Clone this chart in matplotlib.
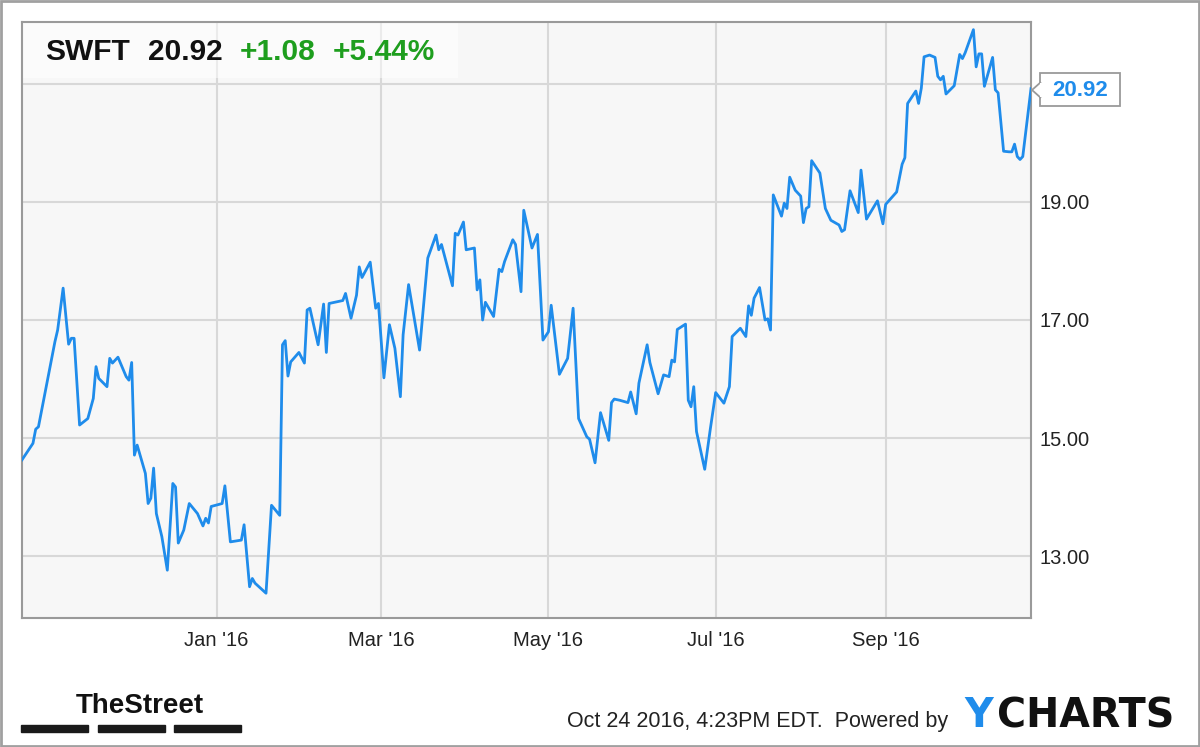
import numpy as np
import pandas as pd
import matplotlib
matplotlib.use("Agg")
import matplotlib.pyplot as plt
from matplotlib.patches import Rectangle, Polygon

# SWFT closing prices (vertices of the line)
dates = [
    "2015-10-22", "2015-10-26", "2015-10-27", "2015-10-28", "2015-11-01", "2015-11-03",
    "2015-11-04", "2015-11-06", "2015-11-08", "2015-11-09", "2015-11-10", "2015-11-12",
    "2015-11-15", "2015-11-17", "2015-11-18", "2015-11-19", "2015-11-22", "2015-11-23",
    "2015-11-24", "2015-11-26", "2015-11-29", "2015-11-30", "2015-12-01", "2015-12-02",
    "2015-12-03", "2015-12-06", "2015-12-07", "2015-12-08", "2015-12-09", "2015-12-10",
    "2015-12-12", "2015-12-14", "2015-12-16", "2015-12-17", "2015-12-18", "2015-12-20",
    "2015-12-22", "2015-12-25", "2015-12-27", "2015-12-28", "2015-12-29", "2015-12-30",
    "2016-01-03", "2016-01-04", "2016-01-06", "2016-01-10", "2016-01-11", "2016-01-13",
    "2016-01-14", "2016-01-15", "2016-01-19", "2016-01-21", "2016-01-24", "2016-01-25",
    "2016-01-26", "2016-01-27", "2016-01-28", "2016-01-31", "2016-02-02", "2016-02-03",
    "2016-02-04", "2016-02-07", "2016-02-09", "2016-02-10", "2016-02-11", "2016-02-16",
    "2016-02-17", "2016-02-19", "2016-02-21", "2016-02-22", "2016-02-23", "2016-02-26",
    "2016-02-28", "2016-02-29", "2016-03-02", "2016-03-04", "2016-03-06", "2016-03-08",
    "2016-03-09", "2016-03-11", "2016-03-15", "2016-03-18", "2016-03-21", "2016-03-22",
    "2016-03-23", "2016-03-27", "2016-03-28", "2016-03-29", "2016-03-31", "2016-04-01",
    "2016-04-04", "2016-04-05", "2016-04-06", "2016-04-07", "2016-04-08", "2016-04-11",
    "2016-04-13", "2016-04-14", "2016-04-15", "2016-04-18", "2016-04-19", "2016-04-21",
    "2016-04-22", "2016-04-25", "2016-04-27", "2016-04-29", "2016-05-01", "2016-05-02",
    "2016-05-05", "2016-05-08", "2016-05-10", "2016-05-12", "2016-05-15", "2016-05-16",
    "2016-05-18", "2016-05-20", "2016-05-23", "2016-05-24", "2016-05-25", "2016-05-27",
    "2016-05-30", "2016-05-31", "2016-06-02", "2016-06-03", "2016-06-06", "2016-06-07",
    "2016-06-10", "2016-06-12", "2016-06-14", "2016-06-15", "2016-06-16", "2016-06-17",
    "2016-06-20", "2016-06-21", "2016-06-22", "2016-06-23", "2016-06-24", "2016-06-27",
    "2016-06-29", "2016-07-01", "2016-07-04", "2016-07-06", "2016-07-07", "2016-07-10",
    "2016-07-12", "2016-07-13", "2016-07-14", "2016-07-15", "2016-07-17", "2016-07-19",
    "2016-07-20", "2016-07-21", "2016-07-22", "2016-07-25", "2016-07-26", "2016-07-27",
    "2016-07-28", "2016-07-30", "2016-08-01", "2016-08-02", "2016-08-03", "2016-08-04",
    "2016-08-05", "2016-08-08", "2016-08-10", "2016-08-12", "2016-08-15", "2016-08-16",
    "2016-08-17", "2016-08-19", "2016-08-22", "2016-08-23", "2016-08-25", "2016-08-29",
    "2016-08-31", "2016-09-01", "2016-09-05", "2016-09-07", "2016-09-08", "2016-09-09",
    "2016-09-12", "2016-09-13", "2016-09-14", "2016-09-15", "2016-09-17", "2016-09-19",
    "2016-09-20", "2016-09-21", "2016-09-22", "2016-09-23", "2016-09-26", "2016-09-28",
    "2016-09-29", "2016-09-30", "2016-10-03", "2016-10-04", "2016-10-05", "2016-10-06",
    "2016-10-07", "2016-10-10", "2016-10-11", "2016-10-12", "2016-10-14", "2016-10-16",
    "2016-10-17", "2016-10-18", "2016-10-19", "2016-10-20", "2016-10-21", "2016-10-24",
]
prices = [
    14.63, 14.91, 15.15, 15.19, 16.15, 16.63,
    16.83, 17.54, 16.59, 16.69, 16.69, 15.22,
    15.33, 15.67, 16.21, 16.01, 15.87, 16.35,
    16.27, 16.37, 16.04, 15.98, 16.28, 14.71,
    14.88, 14.40, 13.89, 13.98, 14.49, 13.72,
    13.33, 12.76, 14.23, 14.17, 13.22, 13.44,
    13.89, 13.72, 13.51, 13.64, 13.56, 13.84,
    13.89, 14.19, 13.24, 13.27, 13.53, 12.48,
    12.62, 12.54, 12.37, 13.86, 13.69, 16.58,
    16.65, 16.05, 16.29, 16.45, 16.27, 17.17,
    17.20, 16.58, 17.27, 16.45, 17.28, 17.33,
    17.45, 17.03, 17.42, 17.90, 17.72, 17.98,
    17.20, 17.28, 16.02, 16.92, 16.52, 15.70,
    16.75, 17.60, 16.49, 18.05, 18.44, 18.19,
    18.28, 17.58, 18.47, 18.44, 18.66, 18.19,
    18.22, 17.51, 17.68, 17.00, 17.30, 17.06,
    17.86, 17.82, 17.99, 18.36, 18.28, 17.48,
    18.86, 18.22, 18.45, 16.66, 16.80, 17.25,
    16.08, 16.35, 17.20, 15.33, 15.02, 14.98,
    14.58, 15.43, 14.96, 15.60, 15.66, 15.64,
    15.60, 15.78, 15.41, 15.93, 16.58, 16.28,
    15.75, 16.07, 16.04, 16.32, 16.29, 16.84,
    16.93, 15.64, 15.53, 15.87, 15.11, 14.47,
    15.14, 15.77, 15.59, 15.87, 16.72, 16.86,
    16.72, 17.24, 17.08, 17.37, 17.55, 17.00,
    17.02, 16.83, 19.12, 18.76, 18.98, 18.89,
    19.42, 19.20, 19.10, 18.65, 18.89, 18.92,
    19.70, 19.49, 18.89, 18.69, 18.61, 18.50,
    18.53, 19.19, 18.82, 19.54, 18.71, 19.02,
    18.63, 18.96, 19.17, 19.64, 19.75, 20.67,
    20.88, 20.67, 20.93, 21.46, 21.49, 21.45,
    21.13, 21.07, 21.13, 20.83, 20.97, 21.50,
    21.43, 21.53, 21.92, 21.29, 21.51, 21.51,
    20.96, 21.45, 20.90, 20.85, 19.86, 19.85,
    19.85, 19.98, 19.77, 19.72, 19.77, 20.92,
]

ticker = "SWFT"
last_price = "20.92"
change = "+1.08"
change_pct = "+5.44%"
yticks = [13, 15, 17, 19, 21]
ytick_labels = ["13.00", "15.00", "17.00", "19.00", ""]
xticks = ["2016-01-01", "2016-03-01", "2016-05-01", "2016-07-01", "2016-09-01"]
xtick_labels = ["Jan '16", "Mar '16", "May '16", "Jul '16", "Sep '16"]
footer = "Oct 24 2016, 4:23PM EDT.  Powered by"

plt.rcParams['font.family'] = ['Liberation Sans', 'DejaVu Sans']

BLUE = "#1f8ceb"
GREEN = "#1e9e1e"
GRID = "#d8d8d8"
EDGE = "#9a9a9a"

W, H = 1200, 747
fig = plt.figure(figsize=(W / 100, H / 100), dpi=100)
fig.patch.set_facecolor("white")


def fx(px):
    return px / W


def fy(py):
    # pixel rows are counted from the top
    return 1 - py / H


ax = fig.add_axes([fx(22), fy(618), 1009 / W, 596 / H])
ax.set_facecolor("#f7f7f7")

x = pd.to_datetime(dates)
ax.plot(x, prices, color=BLUE, lw=2.0, zorder=3, solid_joinstyle="round")

ax.set_xlim(pd.Timestamp("2015-10-22"), pd.Timestamp("2016-10-24"))
ax.set_ylim(11.95, 22.05)

ax.set_yticks(yticks)
ax.set_yticklabels(ytick_labels)
ax.yaxis.tick_right()
ax.set_xticks(pd.to_datetime(xticks))
ax.set_xticklabels(xtick_labels)
ax.tick_params(axis="both", length=0, labelsize=14.5, colors="#222222")
ax.tick_params(axis="y", pad=6)
ax.tick_params(axis="x", pad=9)

ax.grid(True, color=GRID, lw=1.5, zorder=1)
ax.set_axisbelow(True)
for side in ["left", "right", "top", "bottom"]:
    ax.spines[side].set_color(EDGE)
    ax.spines[side].set_linewidth(1.5)

# header box with ticker and change
ax.add_patch(Rectangle((0, 1 - 56 / 596), 436 / 1009, 56 / 596, transform=ax.transAxes,
                       facecolor="white", alpha=0.5, edgecolor="none", zorder=2))
head = dict(fontsize=21.5, fontweight="bold")
fig.text(fx(45), fy(60), ticker, color="#111111", **head)
fig.text(fx(148), fy(60), last_price, color="#111111", **head)
fig.text(fx(240), fy(60), change, color=GREEN, **head)
fig.text(fx(333), fy(60), change_pct, color=GREEN, **head)

# last price tag
fig.patches.append(Rectangle((fx(1040), fy(106)), 80 / W, 33 / H, transform=fig.transFigure,
                             facecolor="white", edgecolor=EDGE, lw=1.3))
fig.patches.append(Polygon([(fx(1041), fy(82)), (fx(1032), fy(90)), (fx(1041), fy(98))],
                           closed=False, transform=fig.transFigure, facecolor="white",
                           edgecolor=EDGE, lw=1.3))
fig.patches.append(Rectangle((fx(1039.5), fy(97)), 3 / W, 14 / H, transform=fig.transFigure,
                             facecolor="white", edgecolor="none"))
fig.text(fx(1080), fy(90), last_price, fontsize=16, fontweight="bold", color=BLUE,
         ha="center", va="center")

# TheStreet logo
fig.text(fx(76), fy(713), "TheStreet", fontsize=20, fontweight="bold", color="#111111")
for x0 in [21, 98, 174]:
    fig.patches.append(Rectangle((fx(x0), fy(732)), 67 / W, 7 / H,
                                 transform=fig.transFigure, color="#1a1a1a"))

# footer
fig.text(fx(567), fy(727), footer, fontsize=15.5, color="#222222")
fig.text(fx(964), fy(727), "Y", fontsize=28.5, fontweight="bold", color=BLUE,
         family="DejaVu Sans")
fig.text(fx(997), fy(727), "CHARTS", fontsize=28.5, fontweight="bold", color="#111111",
         family="DejaVu Sans")

# outer frame
fig.patches.append(Rectangle((fx(1), 1 / H), (W - 2) / W, (H - 2) / H, transform=fig.transFigure,
                             fill=False, edgecolor="#a0a0a0", lw=2))

fig.savefig("out.png", dpi=100)
